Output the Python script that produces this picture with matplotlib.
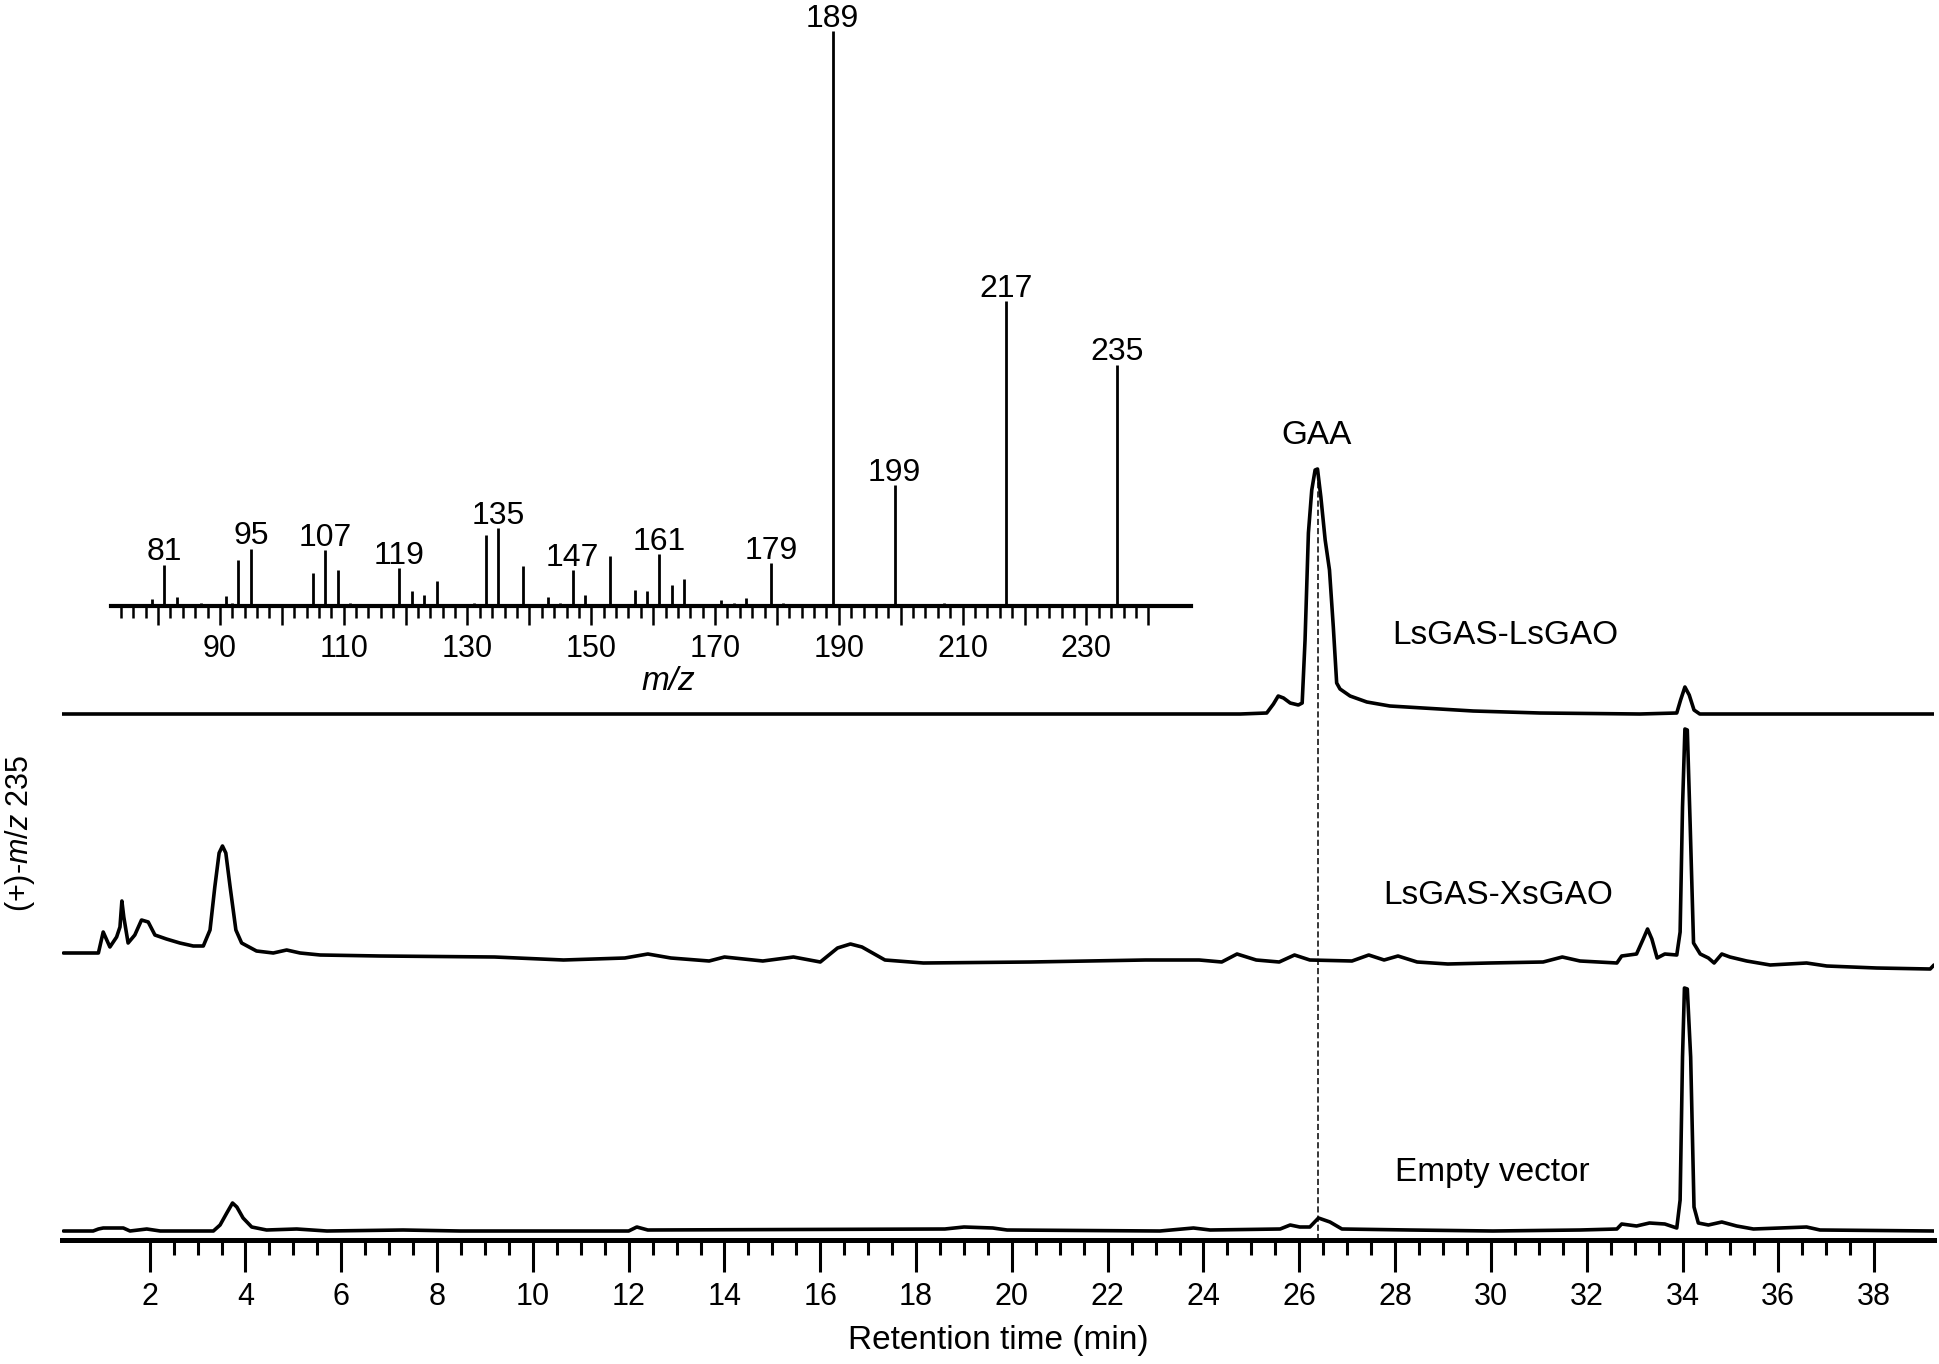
import matplotlib
matplotlib.use('Agg')
import matplotlib.pyplot as plt
import numpy as np
from matplotlib.ticker import FixedLocator, FuncFormatter

plt.rcParams['font.family'] = ['Liberation Sans', 'DejaVu Sans']
plt.rcParams['mathtext.fontset'] = 'custom'
plt.rcParams['mathtext.it'] = 'Liberation Sans:italic'
plt.rcParams['mathtext.rm'] = 'Liberation Sans'

# ---------------- data ----------------
# Chromatogram traces: retention time (min) and signal above each trace's baseline
top_t = [0.17, 24.77, 25.32, 25.46, 25.56, 25.67, 25.81, 25.98, 26.06, 26.12, 26.19,
         26.26, 26.33, 26.38, 26.45, 26.54, 26.63, 26.71, 26.78, 26.85, 27.06, 27.41,
         27.89, 28.58, 29.63, 31.02, 33.11, 33.88, 33.96, 34.05, 34.14, 34.24, 34.36, 39.25]
top_i = [0, 0, 1, 10, 18, 16, 11, 9, 11, 74, 181,
         224, 244, 245, 217, 174, 144, 87, 31, 25, 18, 12,
         8, 6, 3, 1, 0, 1, 14, 27, 19, 4, 0, 0]

mid_t = [0.20, 0.93, 1.03, 1.17, 1.31, 1.38, 1.42, 1.46, 1.55, 1.69, 1.83, 1.97, 2.11,
         2.35, 2.63, 2.91, 3.12, 3.26, 3.36, 3.45, 3.52, 3.59, 3.68, 3.80, 3.92, 4.23,
         4.58, 4.86, 5.14, 5.56, 6.81, 9.20, 10.64, 11.92, 12.40, 12.88, 13.68, 14.00,
         14.80, 15.44, 16.00, 16.36, 16.63, 16.87, 17.35, 18.15, 20.39, 22.79, 23.91,
         24.38, 24.70, 25.10, 25.58, 25.90, 26.22, 27.10, 27.45, 27.77, 28.06, 28.46,
         29.10, 29.97, 31.09, 31.49, 31.86, 32.63, 32.73, 33.04, 33.18, 33.27, 33.36,
         33.47, 33.63, 33.88, 33.95, 34.00, 34.05, 34.10, 34.16, 34.23, 34.37, 34.54,
         34.66, 34.82, 34.99, 35.34, 35.83, 36.59, 37.01, 38.05, 39.17, 39.25]
mid_i = [0, 0, 21, 6, 16, 26, 52, 36, 10, 18, 33, 31, 18,
         14, 10, 7, 7, 23, 66, 100, 107, 100, 66, 23, 10, 2,
         0, 3, 0, -2, -3, -4, -7, -5, -1, -5, -8, -4,
         -8, -4, -9, 5, 9, 6, -7, -10, -9, -7, -7,
         -9, -1, -7, -9, -2, -7, -8, -2, -7, -3, -9,
         -11, -10, -9, -4, -8, -10, -3, -1, 14, 24, 14,
         -5, -1, -2, 21, 146, 224, 223, 128, 10, -1, -5,
         -10, -1, -4, -8, -12, -10, -13, -15, -16, -12]

bot_t = [0.20, 0.82, 0.93, 1.03, 1.17, 1.45, 1.59, 1.94, 2.22, 3.33, 3.47, 3.61, 3.73,
         3.82, 3.95, 4.13, 4.44, 5.07, 5.70, 7.29, 8.48, 10.57, 12.00, 12.17, 12.40,
         18.60, 19.00, 19.60, 19.90, 23.09, 23.79, 24.14, 25.60, 25.81, 26.01, 26.22,
         26.40, 26.64, 26.89, 28.31, 30.04, 31.86, 32.63, 32.73, 33.04, 33.31, 33.63,
         33.88, 33.95, 34.00, 34.04, 34.10, 34.17, 34.24, 34.33, 34.54, 34.82, 35.13,
         35.48, 36.59, 36.87, 39.25]
bot_i = [0, 0, 2, 3, 3, 3, 0, 2, 0, 0, 6, 18, 28,
         24, 13, 4, 1, 2, 0, 1, 0, 0, 0, 4, 1,
         2, 4, 3, 1, 0, 3, 1, 2, 6, 4, 4,
         13, 9, 2, 1, 0, 1, 2, 7, 5, 8, 7,
         3, 31, 174, 243, 242, 174, 24, 8, 6, 9, 5,
         2, 4, 1, 0]

trace_names = ['LsGAS-LsGAO', 'LsGAS-XsGAO', 'Empty vector']
gaa_rt = 26.40

# Mass spectrum (relative intensity, % of base peak)
ms_mz = [77, 79, 81, 83, 87, 91, 92, 93, 95, 104, 105, 107, 109, 111, 119, 121, 123,
         125, 131, 133, 135, 139, 143, 145, 147, 149, 153, 157, 159, 161, 163, 165,
         171, 173, 175, 179, 181, 189, 199, 207, 217, 235]
ms_int = [0.4, 1.2, 7.2, 1.6, 0.5, 1.8, 0.6, 8.0, 10.0, 0.3, 5.8, 9.7, 6.2, 0.5, 6.6,
          2.6, 1.9, 4.3, 0.5, 12.3, 13.5, 6.9, 1.6, 0.5, 6.3, 2.0, 8.7, 2.8, 2.6, 9.0,
          3.7, 4.7, 1.0, 0.5, 1.4, 7.5, 0.5, 100.0, 21.1, 0.5, 53.0, 42.0]
ms_labeled = [81, 95, 107, 119, 135, 147, 161, 179, 189, 199, 217, 235]

# ---------------- figure ----------------
W, H = 1940, 1364
fig = plt.figure(figsize=(W / 100, H / 100), dpi=100)


def fx(px):
    return px / W


def fy(py):
    return 1 - py / H


# main chromatogram axes (y in pixel-like units above the time axis)
ax = fig.add_axes([fx(62), fy(1240), fx(1934) - fx(62), fy(0) - fy(1240)])
ax.set_xlim(0.17, 39.25)
ax.set_ylim(0, 1240)
ax.patch.set_facecolor('none')

offsets = [526, 287, 9]
for t, i, off in zip([top_t, mid_t, bot_t], [top_i, mid_i, bot_i], offsets):
    ax.plot(t, np.asarray(i) + off, color='black', lw=2.6,
            solid_joinstyle='round', solid_capstyle='round', zorder=3)

ax.vlines(gaa_rt, 0, 760, colors='black', linestyles=(0, (4, 2)), lw=1.1, zorder=2)

ax.text(26.35, 804, 'GAA', fontsize=24, ha='center', va='center')
label_pos = [(27.95, 605), (27.76, 345), (27.99, 68)]
for name, (lx, ly) in zip(trace_names, label_pos):
    ax.text(lx, ly, name, fontsize=24, ha='left', va='center')

for s in ['left', 'right', 'top']:
    ax.spines[s].set_visible(False)
ax.spines['bottom'].set_linewidth(3.6)
ax.set_yticks([])
ax.xaxis.set_major_locator(FixedLocator(np.arange(2, 39, 2)))
ax.xaxis.set_minor_locator(FixedLocator(np.arange(2, 38.01, 0.5)))
ax.tick_params(axis='x', which='major', direction='out', length=23, width=2.2,
               labelsize=22, pad=7)
ax.tick_params(axis='x', which='minor', direction='out', length=11, width=2.2)
for lab in ax.get_xticklabels():
    lab.set_family(['Liberation Sans Narrow', 'Liberation Sans'])
ax.set_xlabel('Retention time (min)', fontsize=24)
ax.xaxis.label.set_va('center')
ax.xaxis.set_label_coords(0.5, -100 / 1240)

# inset mass spectrum
ins = fig.add_axes([fx(111), fy(606), fx(1191) - fx(111), fy(31) - fy(606)])
ins.patch.set_facecolor('none')
ins.vlines(ms_mz, 0, ms_int, colors='black', lw=2.0)
ins.set_xlim(72.4, 246.9)
ins.set_ylim(0, 100)
for s in ['left', 'right', 'top']:
    ins.spines[s].set_visible(False)
ins.spines['bottom'].set_linewidth(3.0)
ins.set_yticks([])
ins.xaxis.set_major_locator(FixedLocator(np.arange(80, 241, 10)))
ins.xaxis.set_minor_locator(FixedLocator(np.arange(74, 241, 2)))
ins.xaxis.set_major_formatter(FuncFormatter(
    lambda v, p: f'{int(round(v))}' if int(round(v - 90)) % 20 == 0 else ''))
ins.tick_params(axis='x', which='major', direction='out', length=14, width=1.8,
                labelsize=22, pad=6)
ins.tick_params(axis='x', which='minor', direction='out', length=8.5, width=1.8)

lookup = dict(zip(ms_mz, ms_int))
for m in ms_labeled:
    ins.annotate(str(m), (m, lookup[m]), xytext=(0, 3), textcoords='offset points',
                 ha='center', va='baseline', fontsize=23, annotation_clip=False)

fig.text(fx(668), fy(682), 'm/z', style='italic', fontsize=24, ha='center', va='center')
fig.text(fx(20), fy(833), r'(+)-$m/z$ 235', rotation=90, fontsize=22,
         ha='center', va='center')

fig.savefig('out.png', dpi=100, facecolor='white')
